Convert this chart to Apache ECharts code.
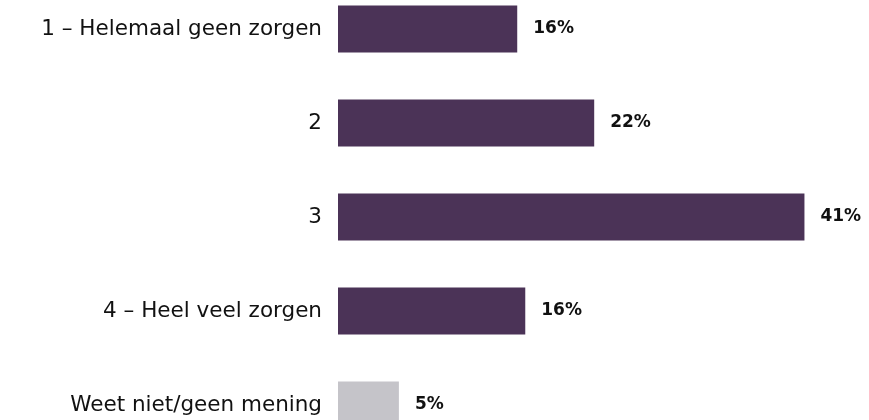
<!DOCTYPE html>
<html lang="nl">
<head>
    <meta charset="utf-8" />
    <title>Zorgen</title>
    <script type="text/javascript" src="https://cdn.jsdelivr.net/npm/echarts@6/dist/echarts.min.js"></script>
    <style type="text/css">
        html, body { margin: 0; padding: 0; background: #fff; }
    </style>
</head>
<body>
    <div id="main" style="width:869px;height:420px;"></div>

    <script type="text/javascript">
        // antwoorden, van boven naar beneden
        var categories = ['1 – Helemaal geen zorgen', '2', '3', '4 – Heel veel zorgen', 'Weet niet/geen mening'];
        var values = [15.6, 22.3, 40.6, 16.3, 5.3];
        var valueLabels = ['16%', '22%', '41%', '16%', '5%'];
        var barColors = ['#4b3357', '#4b3357', '#4b3357', '#4b3357', '#c5c4c9'];

        var myChart = echarts.init(document.getElementById('main'));

        var seriesData = [];
        for (var i = 0; i < values.length; i++) {
            seriesData.push({ value: values[i], itemStyle: { color: barColors[i] } });
        }

        var option = {
            animation: false,
            grid: {
                left: 338,
                right: 14,
                top: -18,
                bottom: -32,
                outerBoundsMode: 'none'
            },
            xAxis: {
                type: 'value',
                min: 0,
                max: 45,
                show: false
            },
            yAxis: {
                type: 'category',
                inverse: true,
                data: categories,
                axisLine: { show: false },
                axisTick: { show: false },
                axisLabel: {
                    margin: 16,
                    color: '#111',
                    fontSize: 21.5,
                    fontFamily: 'DejaVu Sans'
                }
            },
            series: [{
                type: 'bar',
                barWidth: 47,
                data: seriesData,
                label: {
                    show: true,
                    position: 'right',
                    distance: 16,
                    color: '#111',
                    fontSize: 17,
                    fontWeight: 'bold',
                    fontFamily: 'DejaVu Sans',
                    formatter: function (p) { return valueLabels[p.dataIndex]; }
                }
            }]
        };
        myChart.setOption(option, true);
    </script>
</body>
</html>
